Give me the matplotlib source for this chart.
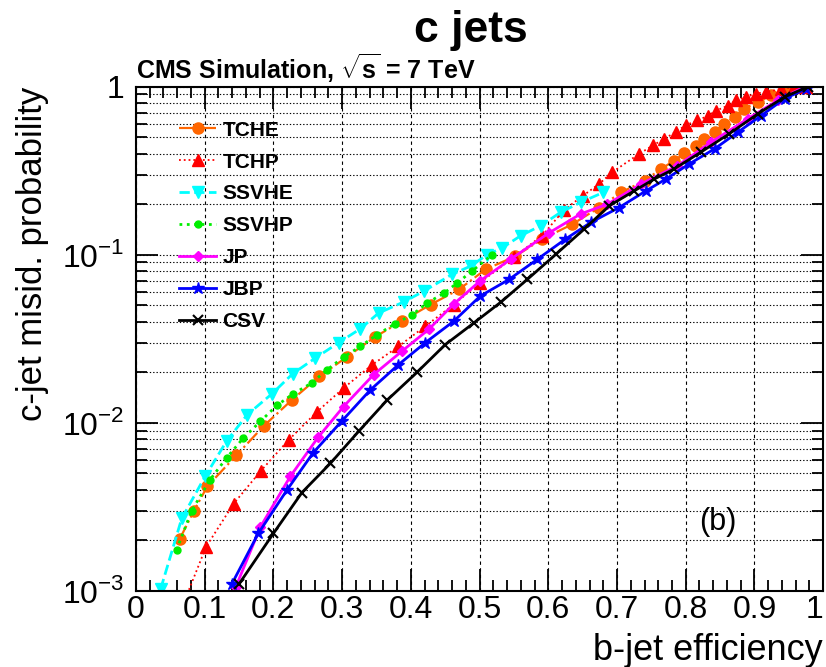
import numpy as np
import matplotlib
matplotlib.use('Agg')
import matplotlib.pyplot as plt
from matplotlib.ticker import MultipleLocator, LogLocator, NullFormatter, FixedFormatter, FixedLocator

plt.rcParams['font.family'] = ['Liberation Sans', 'DejaVu Sans']
plt.rcParams['mathtext.fontset'] = 'custom'
plt.rcParams['mathtext.rm'] = 'Liberation Sans'
plt.rcParams['mathtext.bf'] = 'Liberation Sans:bold'

# b-jet efficiency (x) vs c-jet misid. probability (y)
tche_x = [0.064, 0.084, 0.104, 0.146, 0.186, 0.227, 0.267, 0.307, 0.348, 0.387, 0.429, 0.47,
          0.509, 0.552, 0.591, 0.635, 0.674, 0.706, 0.74, 0.764, 0.783, 0.798, 0.815, 0.827,
          0.842, 0.856, 0.871, 0.885, 0.905, 0.924, 0.944, 0.973]
tche_y = [2.05e-3, 2.98e-3, 4.2e-3, 6.4e-3, 9.6e-3, 0.0137, 0.0189, 0.0247, 0.0325, 0.0403,
          0.0506, 0.0622, 0.082, 0.098, 0.124, 0.152, 0.191, 0.235, 0.276, 0.324, 0.363,
          0.402, 0.446, 0.49, 0.54, 0.60, 0.66, 0.74, 0.81, 0.89, 0.95, 1.0]

tchp_x = [0.072, 0.102, 0.142, 0.182, 0.222, 0.263, 0.302, 0.344, 0.382, 0.421, 0.4625, 0.50,
          0.55, 0.591, 0.623, 0.65, 0.674, 0.693, 0.732, 0.752, 0.769, 0.786, 0.80, 0.817,
          0.832, 0.844, 0.861, 0.873, 0.888, 0.902, 0.917, 0.939, 0.958, 0.975]
tchp_y = [0.9e-3, 1.83e-3, 3.3e-3, 5.2e-3, 7.9e-3, 0.0116, 0.0161, 0.0222, 0.0285, 0.0376,
          0.0506, 0.068, 0.097, 0.13, 0.185, 0.224, 0.264, 0.31, 0.398, 0.447, 0.49, 0.54,
          0.59, 0.63, 0.67, 0.72, 0.77, 0.83, 0.87, 0.91, 0.93, 0.97, 1.0, 1.0]

ssvhe_x = [0.036, 0.0666, 0.1006, 0.132, 0.162, 0.198, 0.228, 0.261, 0.295, 0.3265, 0.353,
           0.39, 0.419, 0.46, 0.487, 0.511, 0.533, 0.56, 0.589, 0.618, 0.647, 0.68]
ssvhe_y = [1.03e-3, 2.7e-3, 4.8e-3, 7.8e-3, 0.0112, 0.0149, 0.0196, 0.0243, 0.030, 0.0363,
           0.045, 0.0525, 0.0608, 0.0765, 0.0857, 0.10, 0.11, 0.13, 0.149, 0.179, 0.205, 0.235]

ssvhp_x = [0.059, 0.081, 0.108, 0.132, 0.156, 0.181, 0.205, 0.229, 0.256, 0.278, 0.302,
           0.3265, 0.351, 0.3775, 0.402, 0.424, 0.448, 0.4675, 0.489, 0.518]
ssvhp_y = [1.75e-3, 3.0e-3, 4.6e-3, 6.2e-3, 8.1e-3, 0.0102, 0.0127, 0.0149, 0.0173, 0.0207,
           0.0246, 0.0285, 0.0335, 0.039, 0.044, 0.0518, 0.059, 0.068, 0.08, 0.10]

jp_x = [0.145, 0.181, 0.2245, 0.265, 0.302, 0.346, 0.387, 0.426, 0.4625, 0.501, 0.545, 0.601,
        0.647, 0.686, 0.735, 0.788, 0.837, 0.89, 0.934, 0.973]
jp_y = [1.05e-3, 2.4e-3, 4.8e-3, 8.2e-3, 0.0125, 0.0194, 0.0267, 0.036, 0.051, 0.07, 0.094,
        0.135, 0.175, 0.2, 0.264, 0.339, 0.468, 0.644, 0.83, 1.0]

jbp_x = [0.1395, 0.178, 0.22, 0.258, 0.30, 0.341, 0.382, 0.421, 0.4625, 0.501, 0.543, 0.584,
         0.625, 0.662, 0.703, 0.742, 0.771, 0.805, 0.842, 0.876, 0.91, 0.944, 0.975, 1.0]
jbp_y = [1.1e-3, 2.2e-3, 4.0e-3, 6.65e-3, 0.0103, 0.0157, 0.0222, 0.030, 0.0403, 0.0568,
         0.0714, 0.094, 0.124, 0.156, 0.191, 0.24, 0.282, 0.347, 0.427, 0.537, 0.674, 0.85,
         0.97, 1.08]

csv_x = [0.15, 0.2, 0.2415, 0.283, 0.324, 0.365, 0.409, 0.45, 0.492, 0.531, 0.5695, 0.611,
         0.652, 0.689, 0.725, 0.754, 0.783, 0.822, 0.863, 0.905, 0.944, 0.978]
csv_y = [1.1e-3, 2.2e-3, 3.85e-3, 5.75e-3, 8.9e-3, 0.0136, 0.02, 0.0292, 0.0394, 0.0523,
         0.0714, 0.1007, 0.142, 0.196, 0.24, 0.282, 0.324, 0.408, 0.524, 0.69, 0.87, 1.0]

x_ticks = [0, 0.1, 0.2, 0.3, 0.4, 0.5, 0.6, 0.7, 0.8, 0.9, 1]
x_tick_labels = ['0', '0.1', '0.2', '0.3', '0.4', '0.5', '0.6', '0.7', '0.8', '0.9', '1']
y_ticks = [1e-3, 1e-2, 1e-1, 1]
y_tick_labels = [r'$10^{-3}$', r'$10^{-2}$', r'$10^{-1}$', '1']

fig = plt.figure(figsize=(8.26, 6.67), dpi=100)
ax = fig.add_axes([0.1646, 0.114, 0.832, 0.756])

# curves - - - - - - - - - - - - - - - - - - - - - - - - - - - - - - - -
ax.plot(tche_x, tche_y, color='#ff6600', linestyle='-.', linewidth=1.6, marker='o',
        markersize=8, label='TCHE')
ax.plot(tchp_x, tchp_y, color='#ff0000', linestyle=':', linewidth=1.3, marker='^',
        markersize=8, label='TCHP')
ax.plot(ssvhe_x, ssvhe_y, color='#00ffff', linestyle='--', linewidth=2, marker='v',
        markersize=8, label='SSVHE')
ax.plot(ssvhp_x, ssvhp_y, color='#00ee00', linestyle=':', linewidth=2, marker='o',
        markersize=5, label='SSVHP')
ax.plot(jp_x, jp_y, color='#ff00ff', linestyle='-', linewidth=2, marker='D',
        markersize=5, label='JP')
ax.plot(jbp_x, jbp_y, color='#0000ff', linestyle='-', linewidth=2, marker='*',
        markersize=9, label='JBP')
ax.plot(csv_x, csv_y, color='black', linestyle='-', linewidth=2, marker='x',
        markersize=7, markeredgewidth=1.5, label='CSV')

ax.set_yscale('log')
ax.set_xlim(0, 1)
ax.set_ylim(1e-3, 1)

ax.xaxis.set_major_locator(FixedLocator(x_ticks))
ax.xaxis.set_major_formatter(FixedFormatter(x_tick_labels))
ax.xaxis.set_minor_locator(MultipleLocator(0.02))
ax.yaxis.set_major_locator(FixedLocator(y_ticks))
ax.yaxis.set_major_formatter(FixedFormatter(y_tick_labels))
ax.yaxis.set_minor_locator(LogLocator(base=10, subs=np.arange(2, 10), numticks=20))
ax.yaxis.set_minor_formatter(NullFormatter())

ax.tick_params(which='both', direction='in', top=True, right=True, width=1.3)
ax.tick_params(which='major', length=16, labelsize=23)
ax.tick_params(axis='x', which='major', pad=3)
ax.tick_params(axis='y', which='major', pad=8)
ax.tick_params(which='minor', length=8)
for s in ax.spines.values():
    s.set_linewidth(1.5)

ax.grid(True, which='major', axis='x', color='black', linestyle=(0, (3, 3)), linewidth=0.8)
ax.grid(True, which='both', axis='y', color='black', linestyle=(0, (1.2, 1.8)), linewidth=0.8)
ax.set_axisbelow(True)

ax.set_xlabel('b-jet efficiency', fontsize=26, ha='right', va='top')
ax.xaxis.set_label_coords(1.0, -0.083)
ax.set_ylabel('c-jet misid. probability', fontsize=25, loc='top', labelpad=10)

fig.canvas.draw()
last = ax.xaxis.get_major_ticks()[-1].label1
last.set_horizontalalignment('right')

fig.text(0.57, 0.955, 'c jets', fontsize=32, fontweight='bold', ha='center', va='center')
ax.text(0.0, 1.004, r'CMS Simulation, $\mathbf{\sqrt{s}}$ = 7 TeV', transform=ax.transAxes,
        fontsize=18, fontweight='bold', ha='left', va='bottom')
ax.text(0.846, 0.137, '(b)', transform=ax.transAxes, fontsize=22, ha='center', va='center')

leg = ax.legend(loc='upper left', bbox_to_anchor=(0.035, 0.97), frameon=False,
                prop={'weight': 'bold', 'size': 15}, handlelength=1.8, handletextpad=0.3,
                labelspacing=0.62)
leg.set_zorder(5)

fig.savefig('out.png', dpi=100)
